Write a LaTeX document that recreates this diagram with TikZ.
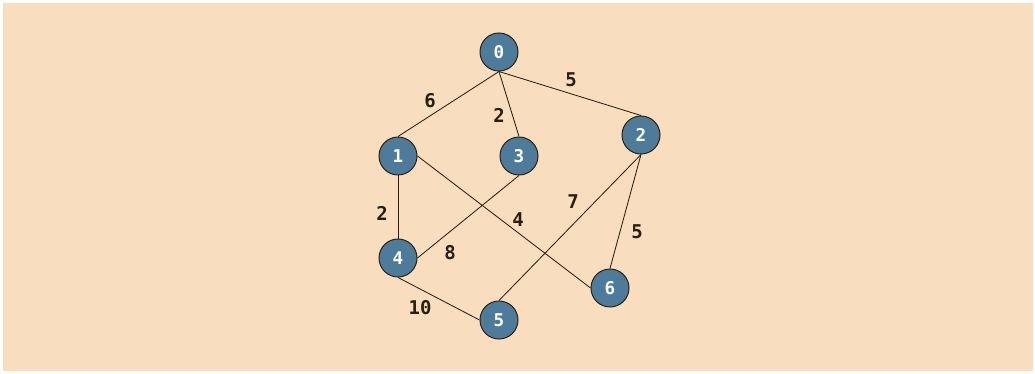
\documentclass[tikz,border=0pt]{standalone}
\usepackage{fontspec}
\setmonofont{DejaVu Sans Mono}
\definecolor{paper}{HTML}{F8DEBE}
\definecolor{vfill}{HTML}{4E7B9A}
\definecolor{ink}{HTML}{2A1E10}
\tikzset{
  vertex/.style={draw=ink, line width=0.7pt, circle, fill=vfill, minimum size=0.95cm, inner sep=0pt, text=white, font=\ttfamily\bfseries\fontsize{12.5}{14}\selectfont},
  weight/.style={text=ink, font=\ttfamily\bfseries\fontsize{13.5}{16}\selectfont},
  edge/.style={draw=ink, line width=0.6pt}
}
\begin{document}
\begin{tikzpicture}[x=0.025cm, y=-0.025cm]
\useasboundingbox (0,0) rectangle (1035,374);
\fill[paper] (3,3) rectangle (1033,371);
\node[vertex] (v0) at (499,52) {0};
\node[vertex] (v1) at (398,156) {1};
\node[vertex] (v2) at (641,135) {2};
\node[vertex] (v3) at (519,156) {3};
\node[vertex] (v4) at (398,258) {4};
\node[vertex] (v5) at (499,320) {5};
\node[vertex] (v6) at (610,288) {6};
\draw[edge] (v0.south) -- (v1.north);
\draw[edge] (v0.south) -- (v3.north);
\draw[edge] (v0.south) -- (v2.north);
\draw[edge] (v1.south) -- (v4.north);
\draw[edge] (v1.east) -- (v6.west);
\draw[edge] (v3.south) -- (v4.east);
\draw[edge] (v2.south) -- (v5.north);
\draw[edge] (v2.south) -- (v6.north);
\draw[edge] (v4.south) -- (v5.west);
\node[weight] (w01) at (430,101) {6};
\node[weight] (w03) at (499,115) {2};
\node[weight] (w02) at (571,80) {5};
\node[weight] (w14) at (382,213) {2};
\node[weight] (w16) at (518,220) {4};
\node[weight] (w25) at (573,202) {7};
\node[weight] (w26) at (637,232) {5};
\node[weight] (w34) at (450,253) {8};
\node[weight] (w45) at (420,308) {10};
\end{tikzpicture}
\end{document}
